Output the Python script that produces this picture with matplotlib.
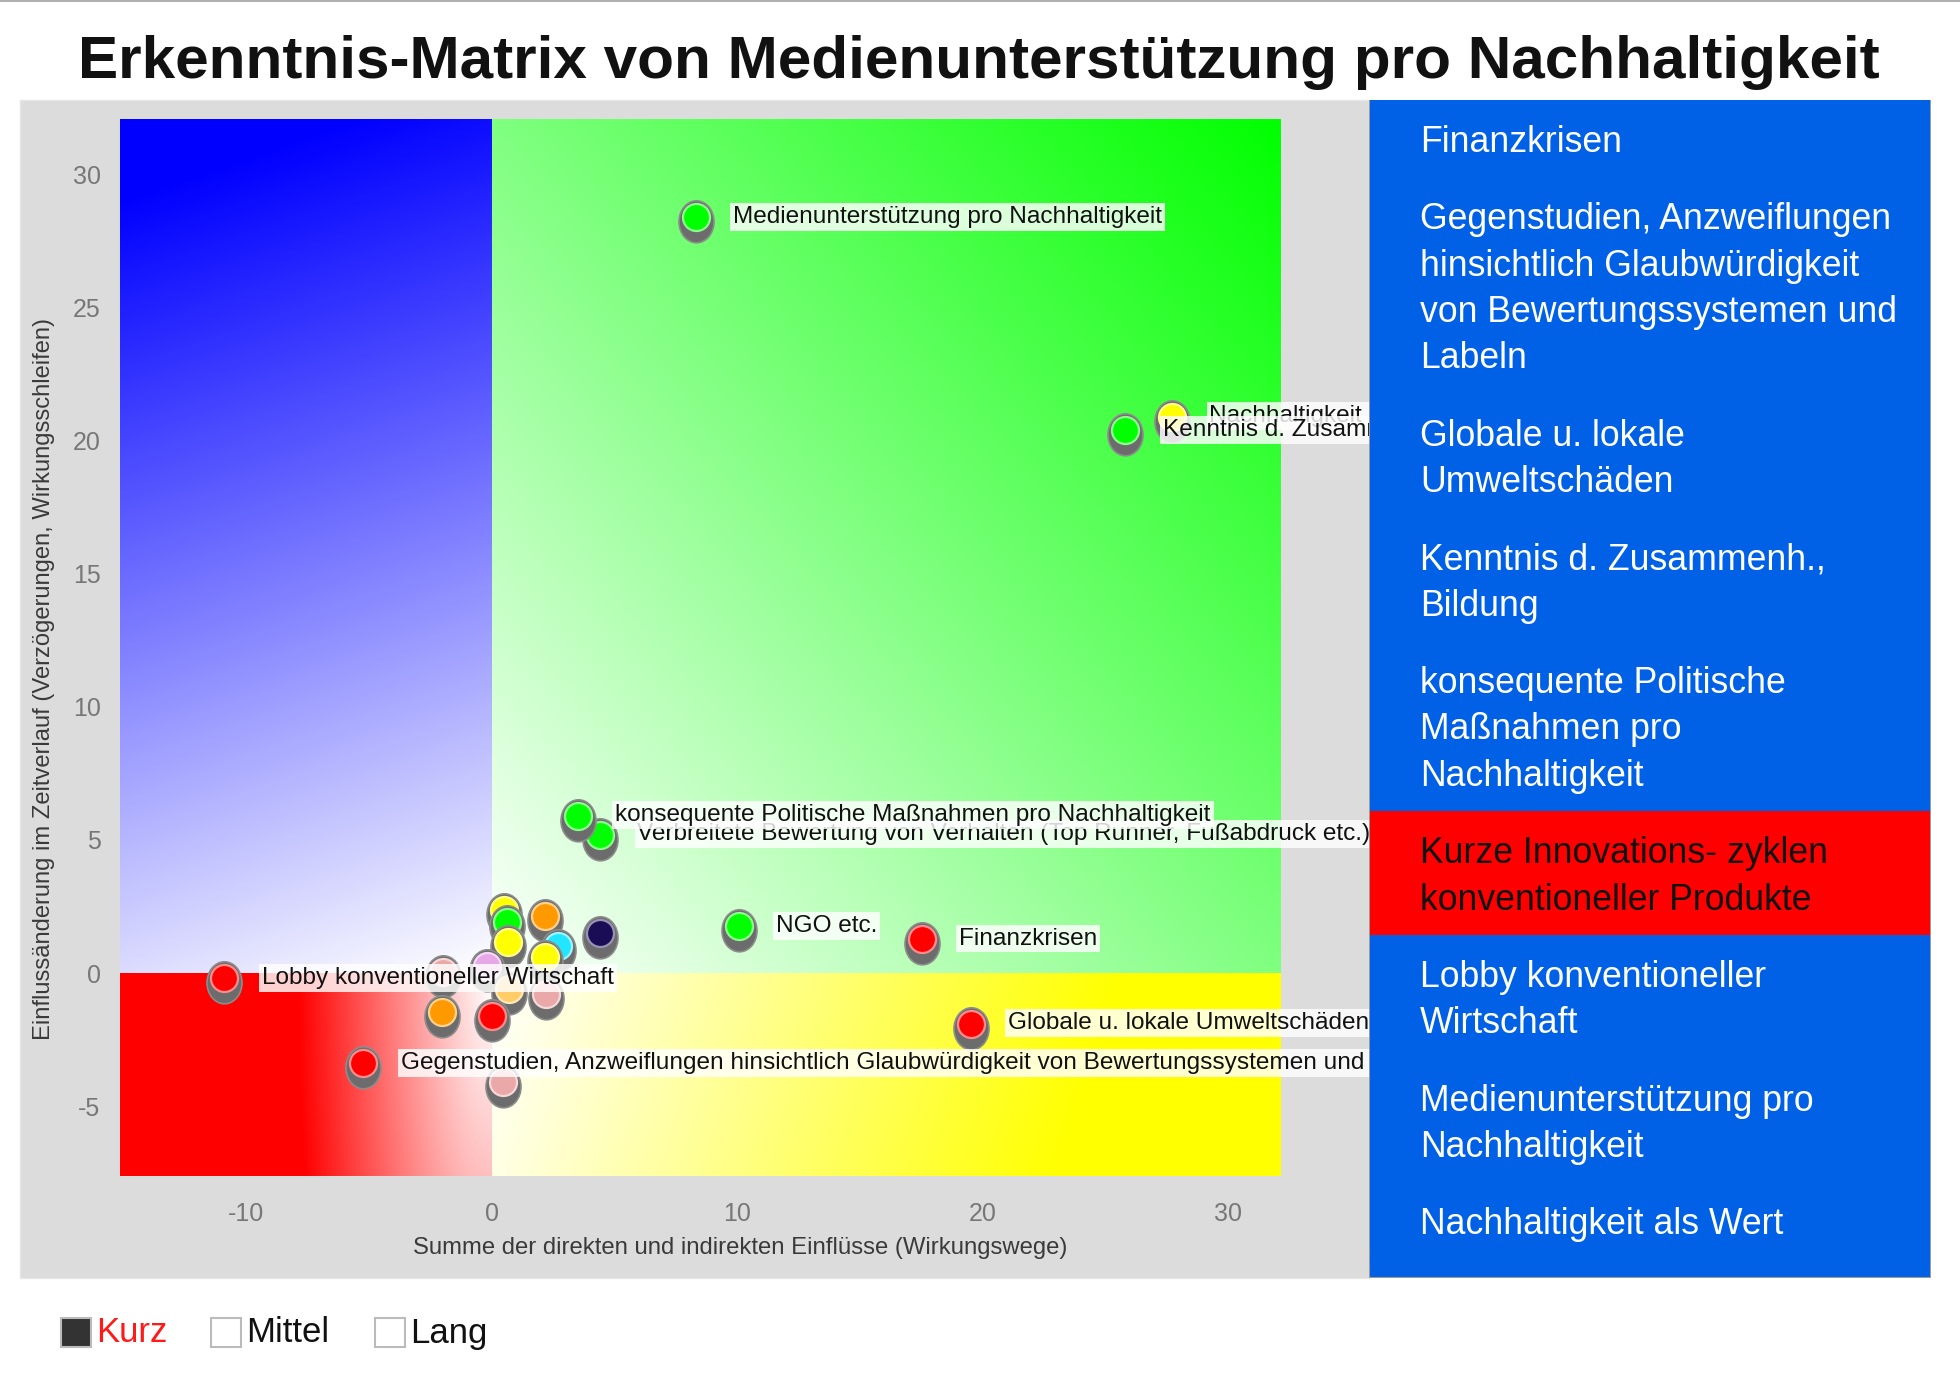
import numpy as np
import matplotlib
matplotlib.use("Agg")
import matplotlib.pyplot as plt
import matplotlib.colors as mc
from matplotlib.patches import Rectangle
from matplotlib.path import Path

plt.rcParams['font.family'] = ['Liberation Sans', 'DejaVu Sans']
plt.rcParams['axes.unicode_minus'] = False

# ---------------- data ----------------
title = "Erkenntnis-Matrix von Medienunterstützung pro Nachhaltigkeit"
x_label = "Summe der direkten und indirekten Einflüsse (Wirkungswege)"
y_label = "Einflussänderung im Zeitverlauf (Verzögerungen, Wirkungsschleifen)"

x_ticks = [-10, 0, 10, 20, 30]
y_ticks = [-5, 0, 5, 10, 15, 20, 25, 30]
x_range = (-15.15, 32.1)
y_range = (-7.63, 32.1)

# unlabeled cluster factors near origin (drawn first)
cluster_x = [0.5, 0.6, 2.15, 4.4, 0.65, 2.7, 2.15, -0.2, -2.0, 0.7, 2.2, -2.05, 0.0, 0.45]
cluster_y = [2.35, 1.9, 2.15, 1.5, 1.15, 1.0, 0.6, 0.25, 0.05, -0.6, -0.8, -1.45, -1.6, -4.1]
cluster_c = ["#ffff00", "#00ff00", "#ff9900", "#1a0d55", "#ffff00", "#22e6ff", "#ffff00",
             "#e8a8e8", "#eaa8a8", "#ffcc66", "#eaa8a8", "#ff9900", "#ff0000", "#eaa8a8"]

# labeled factors
factor_x = [8.3, 27.7, 25.8, 4.4, 3.5, 10.05, 17.5, 19.5, -10.9, -5.25]
factor_y = [28.4, 20.9, 20.4, 5.2, 5.9, 1.75, 1.27, -1.9, -0.2, -3.4]
factor_c = ["#00ff00", "#ffff00", "#00ff00", "#00ff00", "#00ff00", "#00ff00",
            "#ff0000", "#ff0000", "#ff0000", "#ff0000"]
factor_label = [
    "Medienunterstützung pro Nachhaltigkeit",
    "Nachhaltigkeit als Wert",
    "Kenntnis d. Zusammenh., Bildung",
    "Verbreitete Bewertung von Verhalten (Top Runner, Fußabdruck etc.)",
    "konsequente Politische Maßnahmen pro Nachhaltigkeit",
    "NGO etc.",
    "Finanzkrisen",
    "Globale u. lokale Umweltschäden",
    "Lobby konventioneller Wirtschaft",
    "Gegenstudien, Anzweiflungen hinsichtlich Glaubwürdigkeit von Bewertungssystemen und Labeln",
]

panel_items = [
    "Finanzkrisen",
    "Gegenstudien, Anzweiflungen\nhinsichtlich Glaubwürdigkeit\nvon Bewertungssystemen und\nLabeln",
    "Globale u. lokale\nUmweltschäden",
    "Kenntnis d. Zusammenh.,\nBildung",
    "konsequente Politische\nMaßnahmen pro\nNachhaltigkeit",
    "Kurze Innovations- zyklen\nkonventioneller Produkte",
    "Lobby konventioneller\nWirtschaft",
    "Medienunterstützung pro\nNachhaltigkeit",
    "Nachhaltigkeit als Wert",
]
panel_bg = ["#0060e6"] * 5 + ["#ff0000"] + ["#0060e6"] * 3
panel_fg = ["white"] * 5 + ["#111111"] + ["white"] * 3

legend_labels = ["Kurz", "Mittel", "Lang"]
legend_fill = ["#333333", "white", "white"]
legend_text_color = ["#ff1a1a", "#111111", "#111111"]

# ---------------- figure ----------------
W, H = 1960, 1374
fig = plt.figure(figsize=(W / 100, H / 100), dpi=100)
fig.patch.set_facecolor("white")

def fx(px):
    return px / W

def fy(py):
    return 1 - py / H

# grey chart panel
fig.add_artist(Rectangle((fx(20), fy(1278)), fx(1349), 1178 / H, transform=fig.transFigure,
                         facecolor="#dcdcdc", edgecolor="#e6e6e6", lw=1, zorder=-5))
fig.add_artist(Rectangle((0, fy(2)), 1, 2 / H, transform=fig.transFigure,
                         facecolor="#b0b0b0", edgecolor="none", zorder=-5))

fig.text(fx(979), fy(63), title, ha="center", va="center", fontsize=43.4,
         fontweight="bold", color="#111111")

ax = fig.add_axes([fx(120), fy(1176), fx(1160), 1057 / H], zorder=1)
ax.set_xlim(*x_range)
ax.set_ylim(*y_range)
for s in ax.spines.values():
    s.set_visible(False)

# quadrant gradients
N = 300
def quad(x0, x1, y0, y1, rgb, tfunc):
    xs = np.linspace(x0, x1, N)
    ys = np.linspace(y0, y1, N)
    X, Y = np.meshgrid(xs, ys)
    t = np.clip(tfunc(X, Y), 0, 1)[..., None]
    col = np.array(rgb, float)[None, None, :]
    img = (1 - t) * 1.0 + t * col
    ax.imshow(img, extent=(x0, x1, y0, y1), origin="lower", aspect="auto",
              interpolation="bilinear", zorder=0)

xmin, xmax = x_range
ymin, ymax = y_range
quad(xmin, 0, 0, ymax, (0, 0, 1),
     lambda X, Y: 0.95 * (Y / ymax) + 0.14 * (X / xmin))
quad(0, xmax, 0, ymax, (0, 1, 0),
     lambda X, Y: (0.5 * (X / xmax + Y / ymax)) ** 1.0)
quad(xmin, 0, ymin, 0, (1, 0, 0),
     lambda X, Y: np.sqrt((X / xmin / 0.52) ** 2 + (Y / ymin / 4.0) ** 2))
quad(0, xmax, ymin, 0, (1, 1, 0),
     lambda X, Y: (X / xmax) / 0.8 + 0.1 * (Y / ymin))

# markers
a, b, off = 17.5, 21.0, 4.3
circ = Path.unit_circle()
verts = circ.vertices * np.array([a, b]) + np.array([0, -off])
body = Path(verts, circ.codes)
body_size = (2 * (b + off) * 0.72) ** 2
dot_size = (27 * 0.72) ** 2

def lighten(c, f=0.55):
    r = np.array(mc.to_rgb(c))
    return tuple(r + (1 - r) * f)

def draw_point(x, y, c):
    ax.scatter([x], [y], s=body_size, marker=body, facecolor="#6c6c6c",
               edgecolor="#8c8c8c", linewidth=1.2, zorder=3)
    ax.scatter([x], [y], s=dot_size, marker="o", facecolor=c,
               edgecolor=lighten(c), linewidth=1.6, zorder=3)

for x, y, c in zip(cluster_x, cluster_y, cluster_c):
    draw_point(x, y, c)
for x, y, c in zip(factor_x, factor_y, factor_c):
    draw_point(x, y, c)

for x, y, lab in zip(factor_x, factor_y, factor_label):
    ax.annotate(lab, xy=(x, y), xytext=(27, 0.5), textcoords="offset points",
                ha="left", va="center", fontsize=17.6, color="#111111", zorder=4,
                annotation_clip=False,
                bbox=dict(boxstyle="square,pad=0.12", facecolor="white",
                          edgecolor="none", alpha=0.82))

ax.set_xticks(x_ticks)
ax.set_yticks(y_ticks)
ax.tick_params(axis="both", length=0, labelsize=18, labelcolor="#777777")
ax.tick_params(axis="x", pad=19)
ax.tick_params(axis="y", pad=14)

fig.text(fx(740), fy(1248), x_label, ha="center", va="center", fontsize=17.2,
         color="#3a3a3a")
fig.text(fx(44), fy(679), y_label, ha="center", va="center", rotation=90,
         fontsize=17.1, color="#3a3a3a")

# right list panel
PW, PH = 562, 1178
pax = fig.add_axes([fx(1369), fy(1278), fx(PW), PH / H], zorder=5)
pax.set_xlim(0, PW)
pax.set_ylim(PH, 0)
pax.axis("off")
pax.add_patch(Rectangle((0, 0), PW, PH, facecolor="#0060e6", edgecolor="#9a9a9a",
                        lw=1.5, zorder=0))
first, pitch, gap = 39.0, 46.25, 77.5
yy = first
for item, bg, fg in zip(panel_items, panel_bg, panel_fg):
    lines = item.split("\n")
    top = yy - gap / 2
    bot = yy + (len(lines) - 1) * pitch + gap / 2
    pax.add_patch(Rectangle((0.8, top), PW - 1.6, bot - top, facecolor=bg,
                            edgecolor="none", zorder=1))
    for i, line in enumerate(lines):
        pax.text(51, yy + i * pitch + 3.5, line, ha="left", va="center", fontsize=25.7,
                 color=fg, zorder=3)
    yy = yy + (len(lines) - 1) * pitch + gap

# bottom legend
leg_box_x = [61, 211, 375]
for bx, lab, fill, tc in zip(leg_box_x, legend_labels, legend_fill, legend_text_color):
    fig.add_artist(Rectangle((fx(bx), fy(1347)), fx(30), 29 / H, transform=fig.transFigure,
                             facecolor=fill, edgecolor="#bbbbbb", lw=1.5))
    fig.text(fx(bx + 35), fy(1333), lab, ha="left", va="center", fontsize=25,
             color=tc)

fig.savefig("out.png", dpi=100, facecolor="white")
